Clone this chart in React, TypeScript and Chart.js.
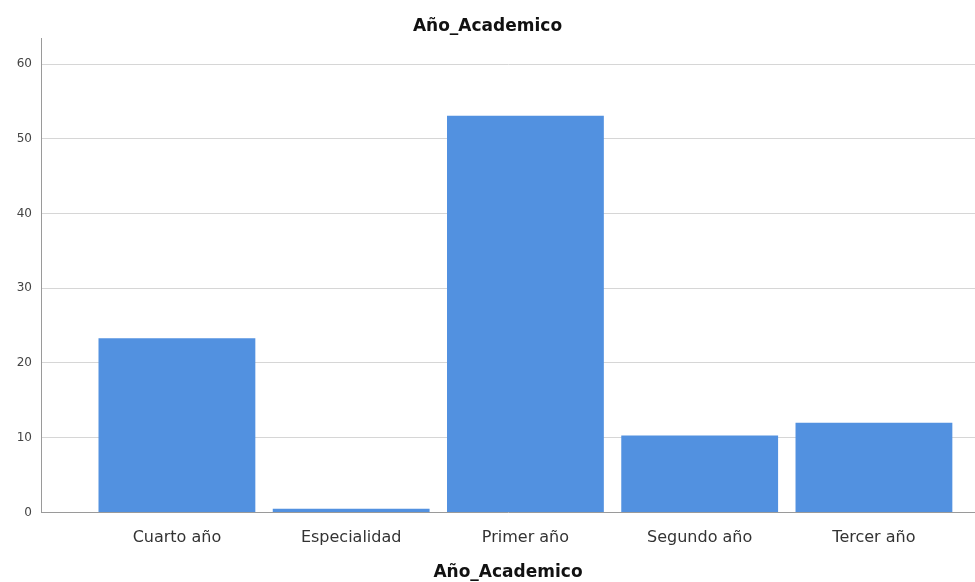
import React, { useEffect, useRef } from "react";
import { Chart, registerables } from "chart.js";

Chart.register(...registerables);

const TITLE = "Año_Academico";
const X_TITLE = "Año_Academico";
const CATEGORIES = ["Cuarto año", "Especialidad", "Primer año", "Segundo año", "Tercer año"];
const VALUES = [23.3, 0.5, 53.1, 10.3, 12.0];
const Y_TICKS = [0, 10, 20, 30, 40, 50, 60];

export default function App() {
  const ref = useRef<HTMLCanvasElement | null>(null);

  useEffect(() => {
    if (!ref.current) return;
    const chart = new Chart(ref.current, {
      type: "bar",
      data: {
        datasets: [
          {
            data: CATEGORIES.map((_, i) => ({ x: i, y: VALUES[i] })),
            backgroundColor: "#5291e0",
            borderWidth: 0,
            barPercentage: 0.9,
            categoryPercentage: 1,
          },
        ],
      },
      options: {
        responsive: false,
        animation: false,
        devicePixelRatio: 1,
        layout: { padding: { left: 0, right: 0, top: 0, bottom: 0 } },
        plugins: {
          legend: { display: false },
          tooltip: { enabled: false },
          title: {
            display: true,
            text: TITLE,
            color: "#111",
            font: { family: "DejaVu Sans", size: 17, weight: "bold", lineHeight: 1.2 },
            padding: { top: 16, bottom: 1.6 },
          },
        },
        scales: {
          x: {
            type: "linear",
            min: -0.78,
            max: 4.58,
            offset: false,
            grid: { display: false, drawTicks: false },
            border: { display: true, color: "#9a9a9a", width: 1 },
            afterBuildTicks: (scale: any) => {
              scale.ticks = CATEGORIES.map((_, i) => ({ value: i }));
            },
            ticks: {
              autoSkip: false,
              maxRotation: 0,
              padding: 16,
              color: "#333",
              font: { family: "DejaVu Sans", size: 16, lineHeight: 1.2 },
              callback: (v: any) => CATEGORIES[v] ?? "",
            },
            title: {
              display: true,
              text: X_TITLE,
              color: "#111",
              font: { family: "DejaVu Sans", size: 17, weight: "bold", lineHeight: 1.2 },
              padding: { top: -1, bottom: -1 },
            },
          },
          y: {
            type: "linear",
            min: 0,
            max: 63.5,
            afterBuildTicks: (scale: any) => {
              scale.ticks = Y_TICKS.map((v) => ({ value: v }));
            },
            afterFit: (scale: any) => {
              scale.width = 41;
            },
            grid: {
              color: (ctx: any) => (ctx.tick && ctx.tick.value === 0 ? "rgba(0,0,0,0)" : "#d6d6d6"),
              lineWidth: 1,
              drawTicks: false,
            },
            border: { display: true, color: "#9a9a9a", width: 1 },
            ticks: {
              padding: 9,
              color: "#444",
              font: { family: "DejaVu Sans", size: 12 },
            },
          },
        },
      },
    });
    return () => chart.destroy();
  }, []);

  return (
    <div style={{ position: "fixed", left: 0, top: 0, width: 975, height: 582, background: "#fff" }}>
      <canvas ref={ref} width={975} height={582} style={{ display: "block", width: 975, height: 582 }} />
    </div>
  );
}
